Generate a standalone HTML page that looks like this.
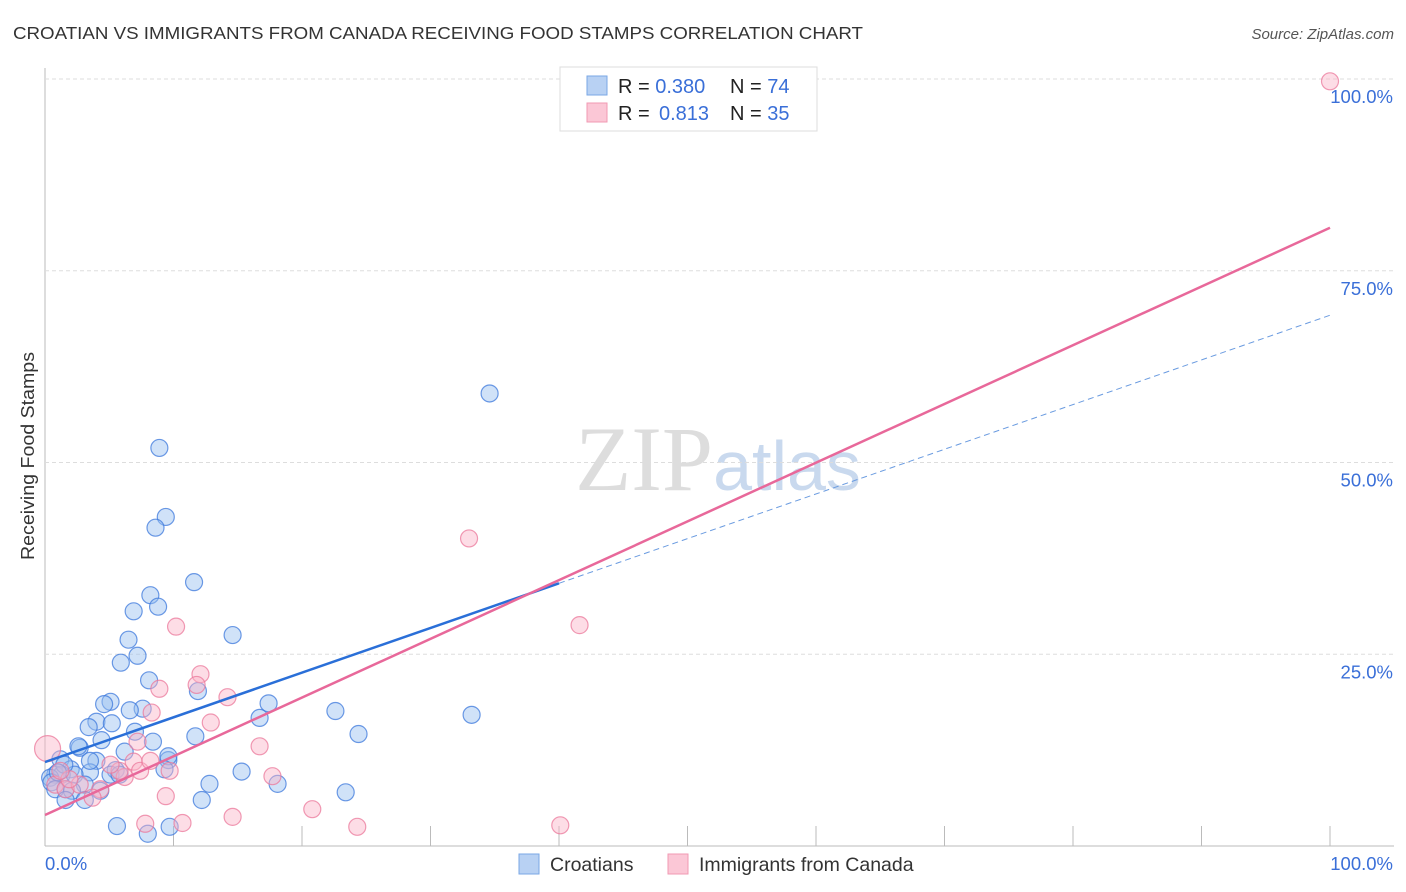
<!DOCTYPE html>
<html><head><meta charset="utf-8"><style>
body{margin:0;background:#fff;font-family:"Liberation Sans",sans-serif}
svg{display:block}
</style></head><body>
<svg width="1406" height="892" id="chart">
<text x="13" y="39" font-size="17.5" fill="#333" textLength="850" lengthAdjust="spacingAndGlyphs">CROATIAN VS IMMIGRANTS FROM CANADA RECEIVING FOOD STAMPS CORRELATION CHART</text>
<text x="1394" y="39" font-size="15" fill="#555" font-style="italic" text-anchor="end">Source: ZipAtlas.com</text>
<text x="718" y="490" font-size="92" fill="#ddd" text-anchor="middle" font-family="Liberation Serif,serif">ZIP<tspan fill="#c9d9ee" font-family="Liberation Sans,sans-serif" font-size="70">atlas</tspan></text>
<text transform="translate(34,456) rotate(-90)" font-size="18" fill="#333" text-anchor="middle" textLength="208" lengthAdjust="spacingAndGlyphs">Receiving Food Stamps</text>
<g id="grid"></g><g id="marks"></g>
<g>
<rect x="560" y="67" width="257" height="64" fill="#fff" stroke="#ddd"/>
<rect x="587" y="76" width="20" height="19" fill="#b8d1f3" stroke="#7aa7e6"/>
<rect x="587" y="103" width="20" height="19" fill="#fbc7d6" stroke="#f09ab3"/>
<text x="618" y="93" font-size="20" fill="#222">R = <tspan fill="#3a6fd8">0.380</tspan><tspan x="730">N = </tspan><tspan fill="#3a6fd8">74</tspan></text>
<text x="618" y="120" font-size="20" fill="#222">R = <tspan x="659" fill="#3a6fd8">0.813</tspan><tspan x="730">N = </tspan><tspan fill="#3a6fd8">35</tspan></text>
</g>
<g>
<rect x="519" y="854" width="20" height="20" fill="#b8d1f3" stroke="#7aa7e6"/>
<text x="550" y="871" font-size="19.5" fill="#333">Croatians</text>
<rect x="668" y="854" width="20" height="20" fill="#fbc7d6" stroke="#f09ab3"/>
<text x="699" y="871" font-size="19.5" fill="#333">Immigrants from Canada</text>
</g>
</svg>
<script>
const yTicks=[25,50,75,100];
const yTickLabels=["25.0%","50.0%","75.0%","100.0%"];
const xTickVals=[0,10,20,30,40,50,60,70,80,90,100];
const blueX=[34.6,8.9,9.4,8.6,11.6,8.2,6.9,8.8,14.6,6.5,7.2,5.9,8.1,11.9,5.1,4.6,17.4,7.6,6.6,22.6,33.2,16.7,4.0,3.4,5.2,7.0,11.7,24.4,8.4,4.4,2.7,6.2,9.6,9.6,9.3,15.3,5.5,4.0,1.2,2.0,3.5,0.8,1.3,2.3,0.4,3.1,0.5,12.8,18.1,1.6,4.3,23.4,2.1,12.2,3.1,5.6,9.7,8.0,5.1,5.8,2.6,1.5,1.0,0.8,1.6,3.5];
const blueY=[59.0,51.9,42.9,41.5,34.4,32.7,30.6,31.2,27.5,26.9,24.8,23.9,21.6,20.2,18.8,18.5,18.6,17.9,17.7,17.6,17.1,16.7,16.2,15.5,16.0,14.9,14.3,14.6,13.6,13.8,12.8,12.3,11.2,11.7,10.0,9.7,9.9,11.1,11.3,10.0,9.6,9.3,9.3,9.3,8.9,8.0,8.3,8.1,8.1,7.4,7.2,7.0,7.2,6.0,6.0,2.6,2.5,1.6,9.3,9.3,13.0,10.6,9.6,7.4,6.0,11.1];
const pinkX=[100,33.0,41.6,10.2,12.1,11.8,8.9,14.2,8.3,12.9,16.7,7.2,6.9,17.7,9.7,6.2,9.4,20.8,14.6,10.7,7.8,24.3,40.1,0.2,0.8,1.6,4.3,2.7,5.8,5.1,1.9,3.7,1.2,7.4,8.2];
const pinkY=[99.7,40.1,28.8,28.6,22.4,21.0,20.5,19.4,17.4,16.1,13.0,13.6,11.0,9.1,9.8,9.0,6.5,4.8,3.8,3.0,2.9,2.5,2.7,12.7,8.0,7.4,7.4,8.0,9.8,10.6,8.7,6.3,9.8,9.8,11.1];
const blueFit=[10.95,0.5825];
const pinkFit=[4.04,0.7656];
const blueSolidEnd=40;
const X=v=>45+v*12.85, Y=v=>846-v*7.67;
const ns="http://www.w3.org/2000/svg";
function mk(t,a,p){const e=document.createElementNS(ns,t);for(const k in a)e.setAttribute(k,a[k]);p.appendChild(e);return e;}
const grid=document.getElementById('grid'),marks=document.getElementById('marks');
mk('line',{x1:45,y1:68,x2:45,y2:846,stroke:'#bbb'},grid);
mk('line',{x1:45,y1:846,x2:1394,y2:846,stroke:'#bbb'},grid);
yTicks.forEach((t,i)=>{
 const l=mk('line',{x1:45,y1:Y(t),x2:1394,y2:Y(t),stroke:'#ddd','stroke-dasharray':'4,3'},grid);
 
 
 const tx=mk('text',{x:1393,y:Y(t)+24,'font-size':18.5,fill:'#3a6fd8','text-anchor':'end'},grid);
 tx.textContent=yTickLabels[i];
 
 
});
xTickVals.forEach(t=>{if(t>0){const l=mk('line',{x1:X(t),y1:826,x2:X(t),y2:846,stroke:'#bbb'},grid);
 
 }});
[["0.0%",45,'start'],["100.0%",1393,'end']].forEach(a=>{const t=mk('text',{x:a[1],y:870,'font-size':18.5,fill:'#3a6fd8','text-anchor':a[2]},grid);t.textContent=a[0];
 
 });
blueX.forEach((x,i)=>{const c=mk('circle',{cx:X(x),cy:Y(blueY[i]),r:8.5,fill:'rgba(150,190,240,0.45)',stroke:'rgba(60,120,220,0.75)','stroke-width':1.2},marks);
 
 });
pinkX.forEach((x,i)=>{const c=mk('circle',{cx:X(x),cy:Y(pinkY[i]),r:i==23?13:8.5,fill:'rgba(250,180,200,0.45)',stroke:'rgba(235,120,155,0.75)','stroke-width':1.2},marks);
 
 });
const fb=v=>blueFit[0]+blueFit[1]*v, fp=v=>pinkFit[0]+pinkFit[1]*v;
let l=mk('line',{x1:X(0),y1:Y(fb(0)),x2:X(blueSolidEnd),y2:Y(fb(blueSolidEnd)),stroke:'#2a6fd8','stroke-width':2.5},marks);


l=mk('line',{x1:X(blueSolidEnd),y1:Y(fb(blueSolidEnd)),x2:X(100),y2:Y(fb(100)),stroke:'#6a9be0','stroke-width':1,'stroke-dasharray':'6,4'},marks);


l=mk('line',{x1:X(0),y1:Y(fp(0)),x2:X(100),y2:Y(fp(100)),stroke:'#e8689a','stroke-width':2.5},marks);


</script>
</body></html>
